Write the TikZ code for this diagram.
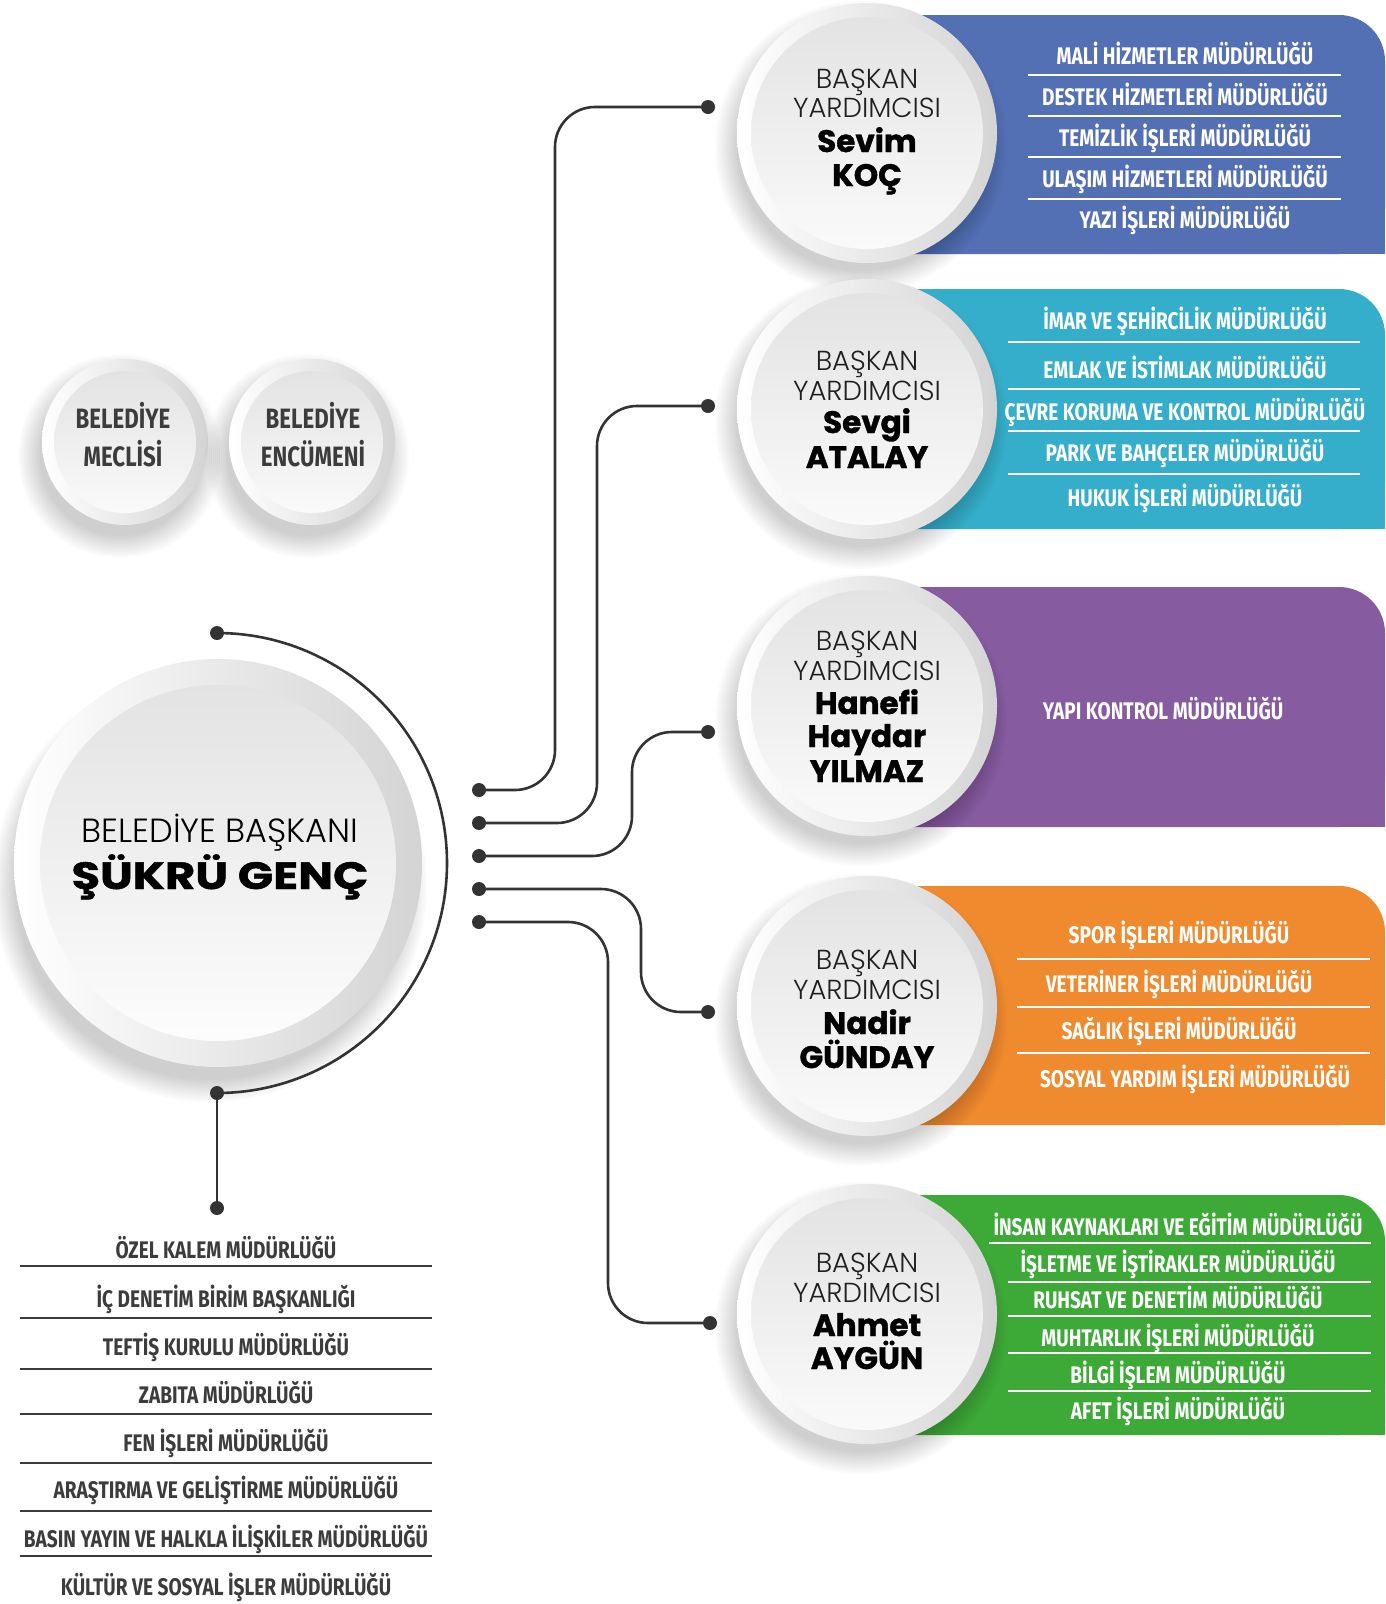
\documentclass[tikz,border=0pt]{standalone}
\usepackage{fontspec}
\setmainfont{Poppins}
\newfontfamily\plight{Poppins Light}
\newfontfamily\pblack{Poppins}[BoldFeatures={FakeBold=1.2}]
\newfontfamily\cond{Fira Sans}[FakeStretch=0.795]
\definecolor{lineC}{HTML}{333333}
\definecolor{listC}{HTML}{3C3C3C}
\definecolor{pblue}{HTML}{5470B4}
\definecolor{pteal}{HTML}{35AECB}
\definecolor{ppurple}{HTML}{865BA0}
\definecolor{porange}{HTML}{F08A2E}
\definecolor{pgreen}{HTML}{3DAA38}
\newcommand{\softshadow}[3]{%
  \foreach \k in {0,...,11}{\fill[black,opacity=0.016] (#1,#2) circle[radius=#3+2*\k];}}
\newcommand{\panelbox}[3]{%
  \fill[#1, rounded corners=46pt] (867,#2) rectangle (1385,#3);
  \fill[#1] (867,#2+60) rectangle (1385,#3);
  \fill[#1] (867,#2) rectangle (1300,#3);}
\newcommand{\vpcircle}[3]{%
  \softshadow{#2-6}{#3+14}{124}
  \shade[left color=white, right color=black!17] (#2,#3) circle[radius=130];
  \shade[top color=black!11, bottom color=black!2] (#2,#3) circle[radius=116];
  \node[circle, minimum size=260pt, inner sep=0pt] (#1) at (#2,#3) {};}
\begin{document}
\begin{tikzpicture}[x=1pt,y=-1pt,
  jdot/.style={circle, fill=lineC, inner sep=0pt, minimum size=14pt},
  conn/.style={draw=lineC, line width=2.6pt, rounded corners=40pt},
  ptxt/.style={text=white, font=\cond\bfseries\fontsize{24}{26}\selectfont, anchor=base, inner sep=0pt},
  ltxt/.style={text=listC, font=\cond\bfseries\fontsize{24}{26}\selectfont, anchor=base, inner sep=0pt},
  ctxt/.style={text=listC, font=\cond\bfseries\fontsize{28}{30}\selectfont, anchor=base, inner sep=0pt},
  psep/.style={draw=white, line width=1.3pt},
  lsep/.style={draw=listC, line width=1.2pt},
  vl/.style={font=\plight\fontsize{27.5}{30}\selectfont, anchor=base, text=black!88, inner sep=0pt},
  vb/.style={font=\pblack\bfseries\fontsize{31}{34}\selectfont, anchor=base, text=black, inner sep=0pt}]
\useasboundingbox (0,0) rectangle (1385,1604);
\fill[white] (0,0) rectangle (1385,1604);

% ---------- panels ----------
\panelbox{pblue}{15}{254}
\panelbox{pteal}{289}{529}
\panelbox{ppurple}{587}{827}
\panelbox{porange}{886}{1125}
\panelbox{pgreen}{1195}{1435}

% ---------- VP circles ----------
\vpcircle{vp1}{867}{133}
\vpcircle{vp2}{867}{409}
\vpcircle{vp3}{867}{706}
\vpcircle{vp4}{867}{1006}
\vpcircle{vp5}{867}{1314}

\node[vl] (t1a) at (867,88) {BAŞKAN};
\node[vl] (t1b) at (867,117) {YARDIMCISI};
\node[vb] (t1c) at (867,152) {Sevim};
\node[vb] (t1d) at (867,186) {KOÇ};

\node[vl] (t2a) at (867,370) {BAŞKAN};
\node[vl] (t2b) at (867,400) {YARDIMCISI};
\node[vb] (t2c) at (867,433) {Sevgi};
\node[vb] (t2d) at (867,468) {ATALAY};

\node[vl] (t3a) at (867,650) {BAŞKAN};
\node[vl] (t3b) at (867,680) {YARDIMCISI};
\node[vb] (t3c) at (867,714) {Hanefi};
\node[vb] (t3d) at (867,747) {Haydar};
\node[vb] (t3e) at (867,782) {YILMAZ};

\node[vl] (t4a) at (867,969) {BAŞKAN};
\node[vl] (t4b) at (867,999) {YARDIMCISI};
\node[vb] (t4c) at (867,1034) {Nadir};
\node[vb] (t4d) at (867,1068) {GÜNDAY};

\node[vl] (t5a) at (867,1272) {BAŞKAN};
\node[vl] (t5b) at (867,1302) {YARDIMCISI};
\node[vb] (t5c) at (867,1336) {Ahmet};
\node[vb] (t5d) at (867,1369) {AYGÜN};

% ---------- panel texts ----------
\node[ptxt] (b1) at (1185,64) {MALİ HİZMETLER MÜDÜRLÜĞÜ};
\node[ptxt] (b2) at (1185,105) {DESTEK HİZMETLERİ MÜDÜRLÜĞÜ};
\node[ptxt] (b3) at (1185,146) {TEMİZLİK İŞLERİ MÜDÜRLÜĞÜ};
\node[ptxt] (b4) at (1185,187) {ULAŞIM HİZMETLERİ MÜDÜRLÜĞÜ};
\node[ptxt] (b5) at (1185,228) {YAZI İŞLERİ MÜDÜRLÜĞÜ};
\foreach \yy in {75,116,157,199}{\draw[psep] (1028,\yy) -- (1341,\yy);}

\node[ptxt] (c1) at (1185,329) {İMAR VE ŞEHİRCİLİK MÜDÜRLÜĞÜ};
\node[ptxt] (c2) at (1185,378) {EMLAK VE İSTİMLAK MÜDÜRLÜĞÜ};
\node[ptxt] (c3) at (1185,420) {ÇEVRE KORUMA VE KONTROL MÜDÜRLÜĞÜ};
\node[ptxt] (c4) at (1185,461) {PARK VE BAHÇELER MÜDÜRLÜĞÜ};
\node[ptxt] (c5) at (1185,506) {HUKUK İŞLERİ MÜDÜRLÜĞÜ};
\foreach \yy in {342,389,431,474}{\draw[psep] (1008,\yy) -- (1360,\yy);}

\node[ptxt] (d1) at (1163,719) {YAPI KONTROL MÜDÜRLÜĞÜ};

\node[ptxt] (e1) at (1179,943) {SPOR İŞLERİ MÜDÜRLÜĞÜ};
\node[ptxt] (e2) at (1179,992) {VETERİNER İŞLERİ MÜDÜRLÜĞÜ};
\node[ptxt] (e3) at (1179,1039) {SAĞLIK İŞLERİ MÜDÜRLÜĞÜ};
\node[ptxt] (e4) at (1195,1087) {SOSYAL YARDIM İŞLERİ MÜDÜRLÜĞÜ};
\foreach \yy in {959,1007,1053}{\draw[psep] (1017,\yy) -- (1370,\yy);}

\node[ptxt] (g1) at (1178,1235) {İNSAN KAYNAKLARI VE EĞİTİM MÜDÜRLÜĞÜ};
\node[ptxt] (g2) at (1178,1272) {İŞLETME VE İŞTİRAKLER MÜDÜRLÜĞÜ};
\node[ptxt] (g3) at (1178,1308) {RUHSAT VE DENETİM MÜDÜRLÜĞÜ};
\node[ptxt] (g4) at (1178,1346) {MUHTARLIK İŞLERİ MÜDÜRLÜĞÜ};
\node[ptxt] (g5) at (1178,1383) {BİLGİ İŞLEM MÜDÜRLÜĞÜ};
\node[ptxt] (g6) at (1178,1419) {AFET İŞLERİ MÜDÜRLÜĞÜ};
\draw[psep] (989,1243) -- (1371,1243);
\foreach \yy in {1282,1316,1353,1391}{\draw[psep] (1008,\yy) -- (1371,\yy);}

% ---------- council circles ----------
\softshadow{120}{456}{80}
\shade[left color=white, right color=black!17] (125,442) circle[radius=83];
\shade[top color=black!11, bottom color=black!2] (125,442) circle[radius=71];
\node[circle, minimum size=166pt, inner sep=0pt] (mec) at (125,442) {};
\node[ctxt] (mec1) at (123,428) {BELEDİYE};
\node[ctxt] (mec2) at (123,466) {MECLİSİ};

\softshadow{307}{456}{80}
\shade[left color=white, right color=black!17] (312,442) circle[radius=83];
\shade[top color=black!11, bottom color=black!2] (312,442) circle[radius=71];
\node[circle, minimum size=166pt, inner sep=0pt] (enc) at (312,442) {};
\node[ctxt] (enc1) at (313,428) {BELEDİYE};
\node[ctxt] (enc2) at (313,466) {ENCÜMENİ};

% ---------- president ----------
\softshadow{210}{885}{195}
\shade[left color=white, right color=black!17] (218,863) circle[radius=204];
\shade[top color=black!11, bottom color=black!1] (218,863) circle[radius=178];
\node[circle, minimum size=408pt, inner sep=0pt] (pres) at (218,863) {};
\node[font=\plight\fontsize{33.5}{36}\selectfont, anchor=base, inner sep=0pt] (ptitle) at (220,842) {BELEDİYE BAŞKANI};
\node[font=\pblack\bfseries\fontsize{38}{40}\selectfont, anchor=base, inner sep=0pt] (pname) at (220,889) {\scalebox{1.22}[1]{ŞÜKRÜ GENÇ}};

% ---------- arc around president ----------
\node[jdot] (atop) at (217,633) {};
\node[jdot] (abot) at (217,1093) {};
\node[jdot] (lbot) at (217,1208) {};
\draw[lineC, line width=2.6pt] (atop.center) .. controls (344,633) and (447,736) .. (447,863)
   .. controls (447,990) and (344,1093) .. (abot.center);
\draw[lineC, line width=2.6pt] (abot.center) -- (lbot.center);

% ---------- connectors ----------
\node[jdot] (l1) at (479,790) {};
\node[jdot] (l2) at (479,823) {};
\node[jdot] (l3) at (479,856) {};
\node[jdot] (l4) at (479,889) {};
\node[jdot] (l5) at (479,922) {};
\node[jdot] (r1) at (708,107) {};
\node[jdot] (r2) at (708,406) {};
\node[jdot] (r3) at (708,732) {};
\node[jdot] (r4) at (708,1012) {};
\node[jdot] (r5) at (710,1323) {};
\draw[conn] (l1.center) -- (555,790) -- (555,107) -- (r1.center);
\draw[conn] (l2.center) -- (597,823) -- (597,406) -- (r2.center);
\draw[conn] (l3.center) -- (632,856) -- (632,732) -- (r3.center);
\draw[conn] (l4.center) -- (641,889) -- (641,1012) -- (r4.center);
\draw[conn] (l5.center) -- (608,922) -- (608,1323) -- (r5.center);

% ---------- lower list ----------
\node[ltxt] (k1) at (226,1258) {ÖZEL KALEM MÜDÜRLÜĞÜ};
\node[ltxt] (k2) at (226,1307) {İÇ DENETİM BİRİM BAŞKANLIĞI};
\node[ltxt] (k3) at (226,1355) {TEFTİŞ KURULU MÜDÜRLÜĞÜ};
\node[ltxt] (k4) at (226,1403) {ZABITA MÜDÜRLÜĞÜ};
\node[ltxt] (k5) at (226,1451) {FEN İŞLERİ MÜDÜRLÜĞÜ};
\node[ltxt] (k6) at (226,1498) {ARAŞTIRMA VE GELİŞTİRME MÜDÜRLÜĞÜ};
\node[ltxt] (k7) at (226,1547) {BASIN YAYIN VE HALKLA İLİŞKİLER MÜDÜRLÜĞÜ};
\node[ltxt] (k8) at (226,1595) {KÜLTÜR VE SOSYAL İŞLER MÜDÜRLÜĞÜ};
\foreach \yy in {1266,1318,1369,1414,1463,1511,1556}{\draw[lsep] (20,\yy) -- (432,\yy);}
\end{tikzpicture}
\end{document}
